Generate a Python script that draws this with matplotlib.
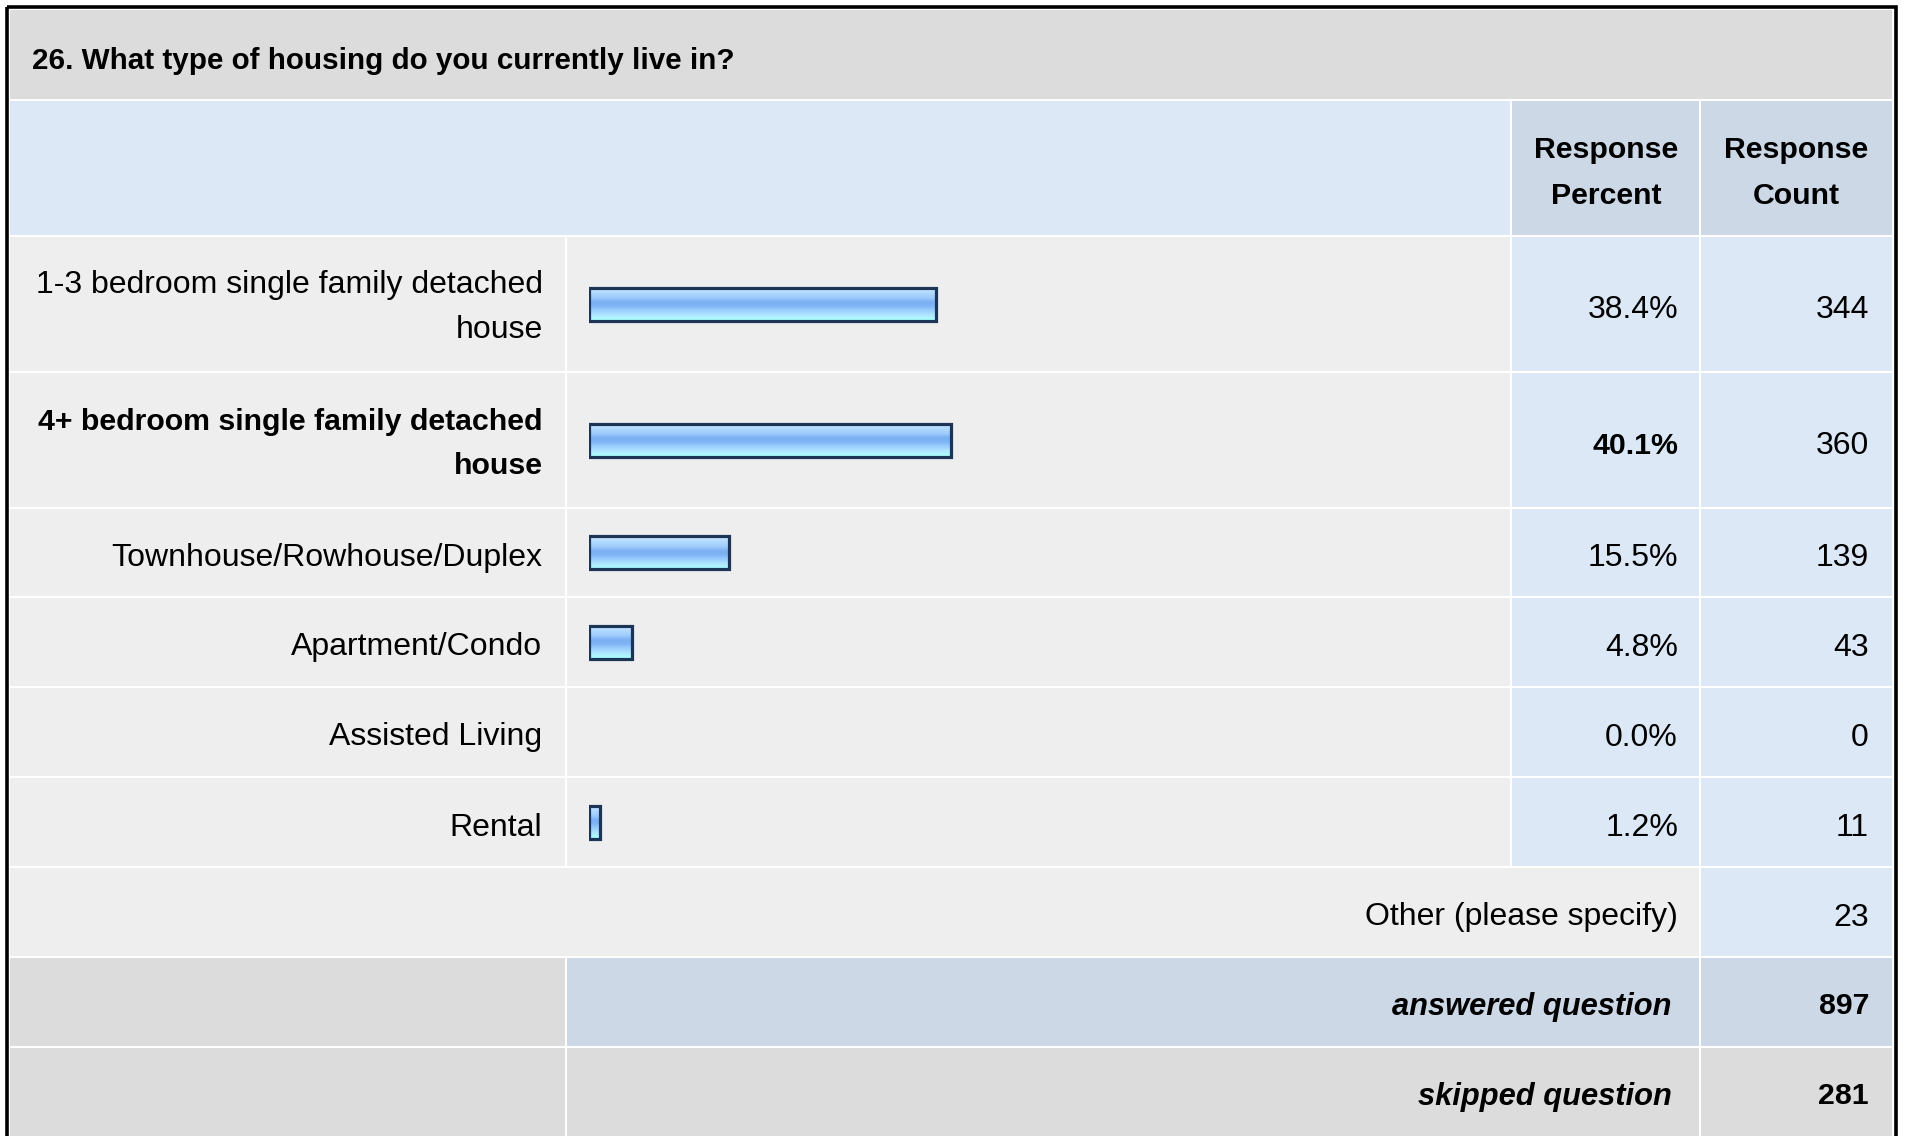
import numpy as np
import matplotlib
matplotlib.use("Agg")
import matplotlib.pyplot as plt
from matplotlib.colors import LinearSegmentedColormap
from matplotlib.patches import Rectangle

plt.rcParams['font.family'] = ['Liberation Sans', 'DejaVu Sans']

# Survey data
question = "26. What type of housing do you currently live in?"
categories = [
    ["1-3 bedroom single family detached", "house"],
    ["4+ bedroom single family detached", "house"],
    ["Townhouse/Rowhouse/Duplex"],
    ["Apartment/Condo"],
    ["Assisted Living"],
    ["Rental"],
]
percents = [38.4, 40.1, 15.5, 4.8, 0.0, 1.2]
counts = [344, 360, 139, 43, 0, 11]
bold_row = [False, True, False, False, False, False]
other_label = "Other (please specify)"
other_count = 23
answered = 897
skipped = 281

# Colours
c_title = "#dcdcdc"
c_head_light = "#dce8f5"
c_head_dark = "#ccd8e6"
c_cell = "#eeeeee"
c_value = "#dce8f5"
c_grey = "#dcdcdc"
c_edge = "#1c3557"
FS = 23.0     # regular text
FSB = 21.8    # bold text

# Layout in pixels (figure is 1907 x 1136)
W, H = 1907, 1136
x_l, x_lab, x_bar, x_pct, x_r = 10, 565, 1510, 1699, 1892
row_tops = [237, 373, 509, 598, 688, 778]
row_bots = [371, 507, 596, 686, 776, 866]

fig = plt.figure(figsize=(W / 100, H / 100), dpi=100)
ax = fig.add_axes([0, 0, 1, 1])
ax.set_xlim(0, W)
ax.set_ylim(H, 0)
ax.axis('off')


def cell(x0, x1, y0, y1, color):
    ax.add_patch(Rectangle((x0, y0), x1 - x0, y1 - y0, facecolor=color,
                           edgecolor='none', zorder=1))


# outer black frame
ax.add_patch(Rectangle((6.5, 6.5), 1895.5 - 6.5, H + 10, facecolor='none',
                       edgecolor='black', linewidth=2.6, zorder=3))

# title band
cell(x_l, x_r, 10, 99, c_title)
ax.text(32, 69, question, fontsize=21.3, fontweight='bold', ha='left', va='baseline')

# header
cell(x_l, x_bar, 101, 235, c_head_light)
cell(x_bar + 2, x_pct, 101, 235, c_head_dark)
cell(x_pct + 2, x_r, 101, 235, c_head_dark)
for xc, lines in [(1606, ["Response", "Percent"]), (1796, ["Response", "Count"])]:
    ax.text(xc, 157.5, lines[0], fontsize=FSB, fontweight='bold', ha='center', va='baseline')
    ax.text(xc, 203.5, lines[1], fontsize=FSB, fontweight='bold', ha='center', va='baseline')

# data rows
centers = []
for i, lab in enumerate(categories):
    y0, y1 = row_tops[i], row_bots[i]
    yc = (y0 + y1) / 2
    centers.append(yc)
    cell(x_l, x_lab, y0, y1, c_cell)
    cell(x_lab + 2, x_bar, y0, y1, c_cell)
    cell(x_bar + 2, x_pct, y0, y1, c_value)
    cell(x_pct + 2, x_r, y0, y1, c_value)
    fw = 'bold' if bold_row[i] else 'normal'
    fs = FSB if bold_row[i] else FS
    if len(lab) == 2:
        ax.text(542.5, yc - 10.5, lab[0], fontsize=fs, fontweight=fw, ha='right', va='baseline')
        ax.text(542.5, yc + 34.5, lab[1], fontsize=fs, fontweight=fw, ha='right', va='baseline')
    else:
        ax.text(542.5, yc + 13.5, lab[0], fontsize=fs, fontweight=fw, ha='right', va='baseline')
    ax.text(1678, yc + 13.5, f"{percents[i]:.1f}%", fontsize=fs, fontweight=fw,
            ha='right', va='baseline')
    ax.text(1869, yc + 13.5, str(counts[i]), fontsize=FS, ha='right', va='baseline')

# other row
cell(x_l, x_pct, 868, 956, c_cell)
cell(x_pct + 2, x_r, 868, 956, c_value)
ax.text(1678, 912 + 13.5, other_label, fontsize=FS, ha='right', va='baseline')
ax.text(1869, 912 + 13.5, str(other_count), fontsize=FS, ha='right', va='baseline')

# answered / skipped rows
for (y0, y1, mid_col, label, val) in [(958, 1046, c_head_dark, "answered question", answered),
                                       (1048, H + 5, c_grey, "skipped question", skipped)]:
    cell(x_l, x_lab, y0, y1, c_grey)
    cell(x_lab + 2, x_pct, y0, y1, mid_col)
    cell(x_pct + 2, x_r, y0, y1, mid_col)
    yc = 1002 if val == answered else 1092
    ax.text(1672, yc + 12.5, label, fontsize=FSB + 0.4, fontweight='bold', style='italic',
            ha='right', va='baseline')
    ax.text(1869, yc + 12.5, str(val), fontsize=FSB, fontweight='bold', ha='right', va='baseline')

# bars in their own axes: 0..100 %
bax = fig.add_axes([589 / W, 0, 903 / W, 1])
bax.patch.set_visible(False)
bax.axis('off')
grad_cmap = LinearSegmentedColormap.from_list("bar", [
    (0.0, "#d2ebff"), (0.15, "#b4dbff"), (0.32, "#9ecbfb"), (0.45, "#79aef2"),
    (0.57, "#7fb4f5"), (0.72, "#9ccffd"), (0.86, "#b0e8ff"), (1.0, "#aaffff")])
grad = np.linspace(0, 1, 64).reshape(-1, 1)
bh = 33
bars = bax.barh(centers, percents, height=bh, color='none', edgecolor=c_edge,
                linewidth=2.3, zorder=3)
for b, p, yc in zip(bars, percents, centers):
    if p <= 0:
        b.set_visible(False)
        continue
    im = bax.imshow(grad, extent=[0, p, yc + bh / 2, yc - bh / 2], aspect='auto',
                    cmap=grad_cmap, origin='upper', zorder=2, interpolation='bilinear')
    im.set_clip_path(b)
bax.set_xlim(0, 100)
bax.set_ylim(H, 0)

fig.savefig("out.png", dpi=100)
